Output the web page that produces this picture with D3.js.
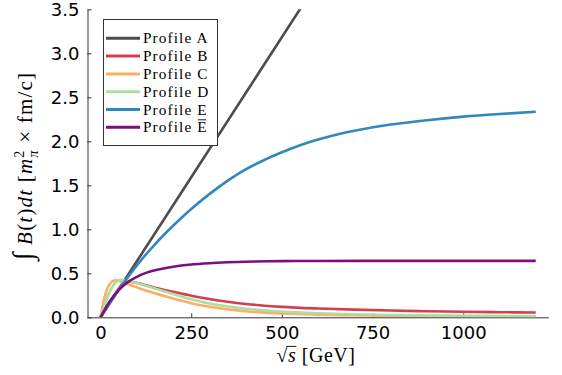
<!DOCTYPE html>
<html><head><meta charset="utf-8">
<script src="https://cdn.jsdelivr.net/npm/d3@7"></script>
<style>
body{margin:0;background:#fff;}
svg{display:block;}
</style></head>
<body>
<svg id="c" width="562" height="375"></svg>
<script>
// ---- data ----
const xTicks = [0, 250, 500, 750, 1000];
const yTicks = [0.0, 0.5, 1.0, 1.5, 2.0, 2.5, 3.0, 3.5];
const seriesNames = ["Profile A", "Profile B", "Profile C", "Profile D", "Profile E", "Profile E"];
const profileA = [[0,0],[300,1.91],[600,3.82]];
const profileB = [[0,0],[25,0.16],[50,0.32],[65,0.395],[80,0.405],[100,0.39],[125,0.365],[150,0.337],[200,0.29],[250,0.245],[300,0.207],[350,0.176],[400,0.152],[500,0.119],[600,0.1],[700,0.087],[800,0.077],[900,0.069],[1000,0.063],[1100,0.058],[1200,0.054]];
const profileC = [[0,0],[10,0.21],[20,0.34],[30,0.4],[40,0.42],[50,0.415],[60,0.4],[75,0.375],[100,0.34],[125,0.305],[150,0.273],[200,0.213],[250,0.16],[300,0.12],[400,0.068],[500,0.043],[600,0.03],[700,0.023],[800,0.018],[900,0.015],[1000,0.013],[1100,0.011],[1200,0.01]];
const profileD = [[0,0],[10,0.12],[20,0.24],[30,0.33],[40,0.39],[50,0.42],[60,0.425],[75,0.415],[100,0.39],[125,0.36],[150,0.328],[200,0.265],[250,0.205],[300,0.157],[400,0.097],[500,0.065],[600,0.046],[700,0.034],[800,0.026],[900,0.021],[1000,0.018],[1100,0.016],[1200,0.014]];
const profileE = [[0,0],[50,0.31],[100,0.59],[150,0.83],[200,1.04],[250,1.23],[300,1.40],[350,1.55],[400,1.68],[450,1.785],[500,1.875],[550,1.955],[600,2.02],[650,2.075],[700,2.12],[800,2.19],[900,2.24],[1000,2.28],[1100,2.31],[1200,2.335]];
const profileEbar = [[0,0],[25,0.18],[50,0.31],[75,0.40],[100,0.46],[125,0.505],[150,0.535],[200,0.575],[250,0.60],[300,0.615],[350,0.625],[400,0.632],[500,0.638],[600,0.64],[800,0.641],[1000,0.641],[1200,0.641]];
const colors = ["#4d4d4d", "#d53e4f", "#fdae61", "#abdda4", "#3288bd", "#7d0f7d"];

const allSeries = [profileA, profileB, profileC, profileD, profileE, profileEbar];

const svg = d3.select("#c");
const x = d3.scaleLinear().domain([-36, 1236]).range([87.5, 548.8]);
const y = d3.scaleLinear().domain([0, 3.5]).range([317.3, 9.3]);

svg.append("defs").append("clipPath").attr("id","clip")
  .append("rect").attr("x",87.5).attr("y",9.3).attr("width",548.8-87.5).attr("height",317.3-9.3);

const axisColor = "#333";
// x axis
const gx = svg.append("g").attr("transform","translate(0,317.3)")
  .call(d3.axisBottom(x).tickValues(xTicks).tickSizeInner(-4).tickSizeOuter(0).tickPadding(9).tickFormat(d3.format("d")));
gx.select(".domain").attr("stroke",axisColor).attr("d","M87.5,0.5H548.8");
gx.selectAll(".tick line").attr("stroke",axisColor);
gx.selectAll("text").attr("font-family","DejaVu Sans").attr("font-size",18).attr("fill","#000");
// y axis
const gy = svg.append("g").attr("transform","translate(87.5,0)")
  .call(d3.axisLeft(y).tickValues(yTicks).tickSizeInner(-4).tickSizeOuter(0).tickPadding(8).tickFormat(d3.format(".1f")));
gy.select(".domain").attr("stroke",axisColor);
gy.selectAll(".tick line").attr("stroke",axisColor);
gy.selectAll("text").attr("font-family","DejaVu Sans").attr("font-size",18).attr("fill","#000");

// lines
const line = d3.line().x(d=>x(d[0])).y(d=>y(d[1])).curve(d3.curveCatmullRom.alpha(0.5));
const gl = svg.append("g").attr("clip-path","url(#clip)");
allSeries.forEach((s,i)=>{
  gl.append("path").datum(s).attr("d",line).attr("fill","none")
    .attr("stroke",colors[i]).attr("stroke-width",2.6).attr("stroke-linejoin","round");
});

// legend
const lg = svg.append("g");
lg.append("rect").attr("x",103.5).attr("y",19.5).attr("width",114).attr("height",126)
  .attr("fill","#fff").attr("stroke","#333").attr("stroke-width",1);
seriesNames.forEach((n,i)=>{
  const cy = 38.3 + i*17.8;
  lg.append("line").attr("x1",106).attr("x2",140).attr("y1",cy).attr("y2",cy)
    .attr("stroke",colors[i]).attr("stroke-width",3);
  const t = lg.append("text").attr("x",143).attr("y",cy+5)
    .attr("font-family","Liberation Serif").attr("font-size",15.3).attr("fill","#000")
    .attr("letter-spacing",1.1)
    .text(n);
  if (i===5) {
    const ext = t.node().getExtentOfChar(n.length-1);
    lg.append("line").attr("x1",ext.x+0.5).attr("x2",ext.x+ext.width-1.6)
      .attr("y1",cy-7.5).attr("y2",cy-7.5).attr("stroke","#000").attr("stroke-width",0.9);
  }
});

// x label
const xl = svg.append("text").attr("x",316).attr("y",362).attr("text-anchor","middle")
  .attr("font-family","Liberation Serif").attr("font-size",20).attr("letter-spacing",0.5).attr("fill","#000");
xl.append("tspan").text("√");
xl.append("tspan").attr("font-style","italic").text("s");
xl.append("tspan").text(" [GeV]");
{
  const n = xl.node();
  const e0 = n.getExtentOfChar(0), e1 = n.getExtentOfChar(1);
  svg.append("line").attr("x1",e0.x+e0.width-1.5).attr("x2",e1.x+e1.width)
    .attr("y1",e0.y+2.4).attr("y2",e0.y+2.4).attr("stroke","#000").attr("stroke-width",0.9);
}

// y label
const yl = svg.append("text").attr("transform","translate(32,166) rotate(-90)")
  .attr("text-anchor","middle").attr("font-family","Liberation Serif").attr("font-size",21)
  .attr("letter-spacing",1.2).attr("fill","#000");
yl.append("tspan").attr("font-size",28).text("∫");
yl.append("tspan").text("  ");
yl.append("tspan").attr("font-style","italic").text("B");
yl.append("tspan").text("(");
yl.append("tspan").attr("font-style","italic").text("t");
yl.append("tspan").text(")");
yl.append("tspan").attr("font-style","italic").text("dt");
yl.append("tspan").text("  [");
yl.append("tspan").attr("font-style","italic").text("m");
yl.append("tspan").attr("font-size",14).attr("dy",-8).text("2");
yl.append("tspan").attr("font-size",14).attr("font-style","italic").attr("dx",-8).attr("dy",14).text("π");
yl.append("tspan").attr("dy",-6).text("  × fm/c]");
</script>
</body></html>
